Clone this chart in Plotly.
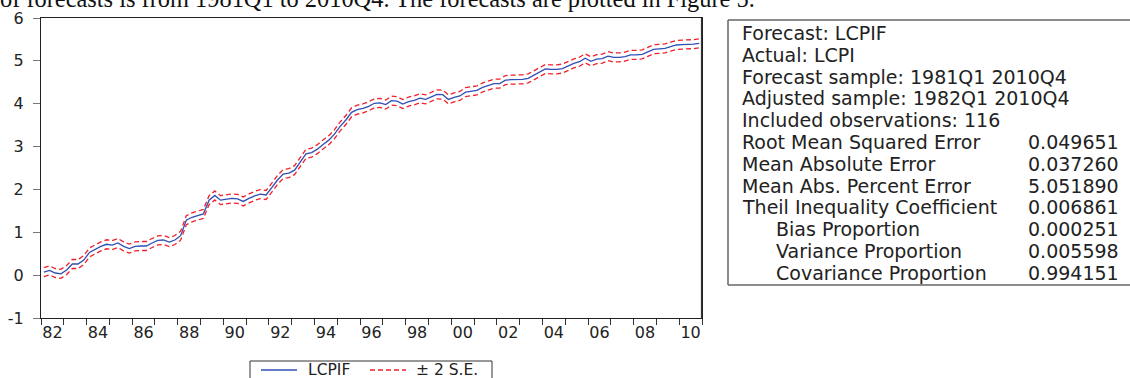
import plotly.graph_objects as go

# ---------------- data ----------------
start_year = 1982
# LCPIF forecast, quarterly 1982Q1 .. 2010Q4 (116 obs)
lcpif = [
    0.07, 0.11, 0.05, 0.03,   # 1982
    0.12, 0.26, 0.26, 0.35,   # 1983
    0.53, 0.60, 0.67, 0.72,   # 1984
    0.70, 0.75, 0.67, 0.62,   # 1985
    0.67, 0.68, 0.68, 0.75,   # 1986
    0.81, 0.82, 0.77, 0.82,   # 1987
    0.92, 1.28, 1.35, 1.39,   # 1988
    1.43, 1.75, 1.86, 1.75,   # 1989
    1.77, 1.79, 1.78, 1.72,   # 1990
    1.79, 1.85, 1.89, 1.87,   # 1991
    2.04, 2.22, 2.36, 2.38,   # 1992
    2.45, 2.65, 2.83, 2.86,   # 1993
    2.94, 3.05, 3.15, 3.29,   # 1994
    3.47, 3.62, 3.80, 3.86,   # 1995
    3.89, 3.94, 4.01, 4.02,   # 1996
    3.98, 4.07, 4.06, 3.99,   # 1997
    4.05, 4.08, 4.13, 4.10,   # 1998
    4.16, 4.22, 4.21, 4.10,   # 1999
    4.15, 4.18, 4.27, 4.29,   # 2000
    4.31, 4.38, 4.43, 4.47,   # 2001
    4.47, 4.55, 4.56, 4.56,   # 2002
    4.57, 4.59, 4.66, 4.74,   # 2003
    4.81, 4.80, 4.80, 4.82,   # 2004
    4.88, 4.94, 4.98, 5.06,   # 2005
    4.99, 5.04, 5.05, 5.11,   # 2006
    5.08, 5.08, 5.10, 5.14,   # 2007
    5.14, 5.15, 5.21, 5.27,   # 2008
    5.28, 5.29, 5.33, 5.37,   # 2009
    5.38, 5.38, 5.39, 5.41,   # 2010
]
two_se = 0.105  # half-width of the +/- 2 S.E. band

tick_years = [1982, 1984, 1986, 1988, 1990, 1992, 1994, 1996, 1998,
              2000, 2002, 2004, 2006, 2008, 2010]
tick_labels = ["82", "84", "86", "88", "90", "92", "94", "96", "98",
               "00", "02", "04", "06", "08", "10"]
y_ticks = [-1, 0, 1, 2, 3, 4, 5, 6]
y_tick_labels = ["-1", "0", "1", "2", "3", "4", "5", "6"]

legend_names = ["LCPIF", "± 2 S.E."]

stat_labels = [
    "Forecast: LCPIF",
    "Actual: LCPI",
    "Forecast sample: 1981Q1 2010Q4",
    "Adjusted sample: 1982Q1 2010Q4",
    "Included observations: 116",
    "Root Mean Squared Error",
    "Mean Absolute Error",
    "Mean Abs. Percent Error",
    "Theil Inequality Coefficient",
    "Bias Proportion",
    "Variance Proportion",
    "Covariance Proportion",
]
stat_values = ["", "", "", "", "", "0.049651", "0.037260", "5.051890",
               "0.006861", "0.000251", "0.005598", "0.994151"]
stat_indent = [0, 0, 0, 0, 0, 0, 0, 0, 0, 1, 1, 1]

header_text = "of forecasts is from 1981Q1 to 2010Q4. The forecasts are plotted in Figure 5."

# ---------------- layout helpers ----------------
W, H = 1130, 378
ML, MR, MT, MB = 41, 428, 18, 60
PW, PH = W - ML - MR, H - MT - MB


def px(x):
    return (x - ML) / PW


def py(y):
    return (H - MB - y) / PH


FONT = "DejaVu Sans, Arial, sans-serif"

x = [start_year + (i // 4) + ((i % 4) + 0.5) / 4 for i in range(len(lcpif))]
upper = [v + two_se for v in lcpif]
lower = [v - two_se for v in lcpif]

blue = "#2f4fb5"
red = "#f0202a"
DASH = "5px,3px"

fig = go.Figure()
fig.add_trace(go.Scatter(x=x, y=lcpif, mode="lines", name=legend_names[0],
                         line=dict(color=blue, width=1.3)))
fig.add_trace(go.Scatter(x=x, y=upper, mode="lines", name=legend_names[1],
                         line=dict(color=red, width=1.3, dash=DASH)))
fig.add_trace(go.Scatter(x=x, y=lower, mode="lines", name=legend_names[1],
                         line=dict(color=red, width=1.3, dash=DASH)))

fig.update_layout(
    template="none",
    width=W, height=H,
    margin=dict(l=ML, r=MR, t=MT, b=MB, autoexpand=False),
    paper_bgcolor="white", plot_bgcolor="white",
    font=dict(family=FONT, size=15, color="#222"),
    showlegend=False,
)

fig.update_xaxes(
    range=[1982, 2011], showgrid=False, zeroline=False, automargin=False,
    showline=True, mirror=True, linecolor="#222", linewidth=1.2,
    tickmode="array", tickvals=[y + 0.5 for y in tick_years],
    ticktext=tick_labels, ticks="", ticklabelstandoff=0,
    tickfont=dict(size=16, family=FONT, color="#222"),
    minor=dict(tickmode="linear", tick0=1982, dtick=1, ticks="outside",
               ticklen=6, tickwidth=1, tickcolor="#333", showgrid=False),
)
fig.update_yaxes(
    range=[-1, 6], showgrid=False, zeroline=False, automargin=False,
    tickmode="array", tickvals=y_ticks, ticktext=y_tick_labels,
    showline=True, mirror=True, linecolor="#222", linewidth=1.2,
    ticks="outside", ticklen=7, tickwidth=1, tickcolor="#777",
    ticklabelstandoff=6,
    tickfont=dict(size=16, family=FONT, color="#222"),
)

# heavier right frame edge
fig.add_shape(type="line", xref="x", yref="paper", x0=2011, x1=2011, y0=0, y1=1,
              line=dict(color="#333", width=2.2))

# ---- legend box (bottom runs off the page) ----
lg_l, lg_r, lg_t, lg_b = px(250), px(492), py(361), py(400)
for (x0, y0, x1, y1) in [(lg_l, lg_t, lg_r, lg_t),
                         (lg_l, lg_b, lg_l, lg_t),
                         (lg_r, lg_b, lg_r, lg_t)]:
    fig.add_shape(type="line", xref="paper", yref="paper",
                  x0=x0, y0=y0, x1=x1, y1=y1,
                  line=dict(color="#333", width=1))
lg_y = py(370)
fig.add_shape(type="line", xref="paper", yref="paper",
              x0=px(261), x1=px(297), y0=lg_y, y1=lg_y,
              line=dict(color=blue, width=1.3))
fig.add_shape(type="line", xref="paper", yref="paper",
              x0=px(370), x1=px(406), y0=lg_y, y1=lg_y,
              line=dict(color=red, width=1.3, dash=DASH))
fig.add_annotation(xref="paper", yref="paper", x=px(306), y=lg_y,
                   text=legend_names[0], showarrow=False,
                   xanchor="left", yanchor="middle",
                   font=dict(size=15.5, family=FONT, color="#222"))
fig.add_annotation(xref="paper", yref="paper", x=px(414), y=lg_y,
                   text=legend_names[1], showarrow=False,
                   xanchor="left", yanchor="middle",
                   font=dict(size=15.5, family=FONT, color="#222"))

# ---- statistics box (right side runs off the page) ----
box_l, box_r, box_t, box_b = px(728), px(1300), py(20), py(285)
for (x0, y0, x1, y1) in [(box_l, box_t, box_r, box_t),
                         (box_l, box_b, box_r, box_b),
                         (box_l, box_b, box_l, box_t)]:
    fig.add_shape(type="line", xref="paper", yref="paper",
                  x0=x0, y0=y0, x1=x1, y1=y1,
                  line=dict(color="#666", width=1.5))

for i, (lab, val, ind) in enumerate(zip(stat_labels, stat_values, stat_indent)):
    yy = py(33 + i * 21.8)
    fig.add_annotation(xref="paper", yref="paper", x=px(740 + 34 * ind), y=yy,
                       text=lab, showarrow=False, xanchor="left", yanchor="middle",
                       font=dict(size=19, family=FONT, color="#222"))
    if val:
        fig.add_annotation(xref="paper", yref="paper", x=px(1026), y=yy,
                           text=val, showarrow=False, xanchor="left", yanchor="middle",
                           font=dict(size=19, family=FONT, color="#222"))

# clipped body text above the figure
fig.add_annotation(xref="paper", yref="paper", x=px(-2), y=py(14),
                   text=header_text, showarrow=False, xanchor="left", yanchor="bottom",
                   font=dict(size=24.4, family="Liberation Serif, Times New Roman, serif",
                             color="#111"))

fig.write_html("out.html", config={"displayModeBar": False},
               post_script="document.body.style.margin='0';")
